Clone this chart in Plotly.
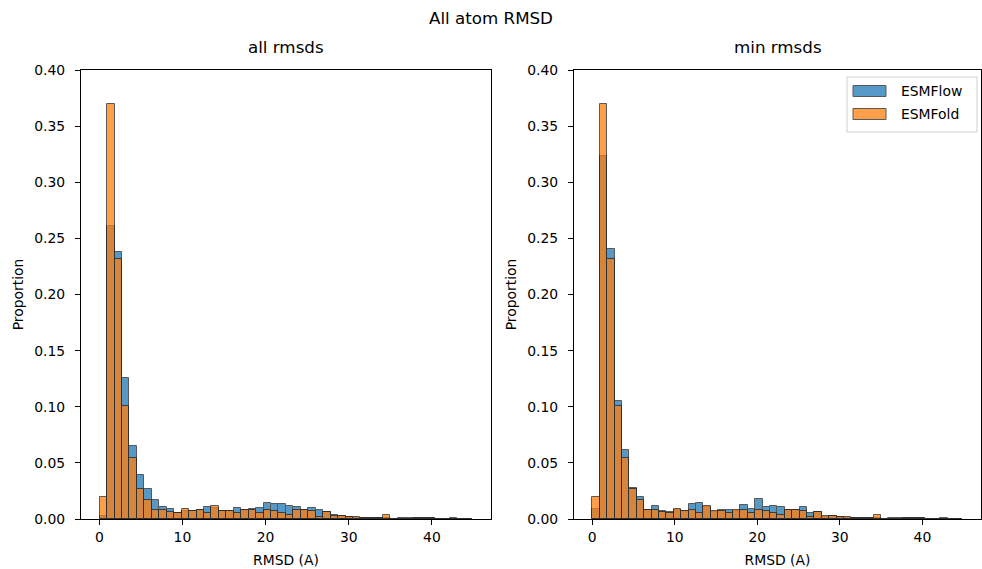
import plotly.graph_objects as go

# ---- data (proportions per histogram bin) ----
bin_start = 0.04
bin_width = 0.896
n_bins = 50

esmflow_all = [0.003, 0.2614, 0.2383, 0.126, 0.0648, 0.039, 0.0265, 0.017, 0.011, 0.009,
               0.0053, 0.007, 0.0068, 0.0077, 0.0103, 0.010, 0.0075, 0.007, 0.0095, 0.008,
               0.0085, 0.0095, 0.0146, 0.013, 0.013, 0.0113, 0.0104, 0.008, 0.0095, 0.0083,
               0.006, 0.004, 0.003, 0.002, 0.001, 0.0008, 0.0008, 0.0006, 0.0005, 0.0,
               0.0004, 0.0006, 0.0005, 0.0005, 0.0005, 0.0004, 0.0, 0.0008, 0.0, 0.0]
esmfold_all = [0.0199, 0.3696, 0.232, 0.1007, 0.054, 0.0266, 0.017, 0.008, 0.0077, 0.0064,
               0.0053, 0.0092, 0.007, 0.008, 0.0056, 0.0112, 0.0072, 0.007, 0.0056, 0.008,
               0.008, 0.005, 0.008, 0.0071, 0.0056, 0.0036, 0.008, 0.008, 0.0071, 0.0015,
               0.006, 0.003, 0.003, 0.002, 0.002, 0.0008, 0.0008, 0.0008, 0.0033, 0.0,
               0.0005, 0.0004, 0.0005, 0.0005, 0.0005, 0.0004, 0.0, 0.0004, 0.0, 0.0]
esmflow_min = [0.0086, 0.3238, 0.2403, 0.1049, 0.0612, 0.0278, 0.0195, 0.008, 0.0113, 0.007,
               0.006, 0.0077, 0.0068, 0.0134, 0.0143, 0.0103, 0.0065, 0.0077, 0.0083, 0.0071,
               0.0122, 0.0092, 0.0175, 0.0104, 0.0113, 0.0104, 0.008, 0.008, 0.0104, 0.005,
               0.006, 0.002, 0.003, 0.002, 0.001, 0.0008, 0.0008, 0.0006, 0.0005, 0.0,
               0.0004, 0.0006, 0.0005, 0.0005, 0.0005, 0.0004, 0.0, 0.0006, 0.0, 0.0]
esmfold_min = list(esmfold_all)

x_ticks = [0, 10, 20, 30, 40]
y_ticks = [0.0, 0.05, 0.10, 0.15, 0.20, 0.25, 0.30, 0.35, 0.40]
series_names = ["ESMFlow", "ESMFold"]
panel_titles = ["all rmsds", "min rmsds"]

# ---- figure ----
W, H = 982, 569
ML, MR, MT, MB = 81, 1, 70, 50
PW, PH = W - ML - MR, H - MT - MB

def px_x(px):
    return (px - ML) / PW

def px_y(py):
    return (H - MB - py) / PH

blue = "#1f77b4"
orange = "#ff7f0e"
edge = "#222222"
FONT = "DejaVu Sans"

centers = [bin_start + (i + 0.5) * bin_width for i in range(n_bins)]

fig = go.Figure()
panels = [(esmflow_all, esmfold_all, "x", "y"), (esmflow_min, esmfold_min, "x2", "y2")]
for flow, fold, xa, ya in panels:
    for vals, col, name in [(flow, blue, series_names[0]), (fold, orange, series_names[1])]:
        fig.add_trace(go.Bar(
            x=centers, y=vals, width=bin_width, name=name,
            marker=dict(color=col, line=dict(color=edge, width=1)),
            opacity=0.75, xaxis=xa, yaxis=ya, showlegend=False,
        ))

axis_common = dict(showline=True, linecolor="black", linewidth=1, mirror=True,
                   ticks="outside", ticklen=5, tickcolor="black", tickwidth=1,
                   showgrid=False, zeroline=False,
                   tickfont=dict(family=FONT, size=13.9, color="black"))

xrange_ = [-2.2, 47.1]
fig.update_layout(
    width=W, height=H,
    margin=dict(l=ML, r=MR, t=MT, b=MB),
    paper_bgcolor="white", plot_bgcolor="white",
    barmode="overlay", bargap=0,
    font=dict(family=FONT, size=13.9, color="black"),
    xaxis=dict(domain=[0, px_x(491)], range=xrange_, tickvals=x_ticks,
               title=dict(text="RMSD (A)", standoff=11, font=dict(size=13.9)), anchor="y", **axis_common),
    yaxis=dict(domain=[0, 1], range=[0, 0.4], tickvals=y_ticks, tickformat=".2f", ticklabelstandoff=7,
               title=dict(text="Proportion", standoff=7, font=dict(size=13.9)), anchor="x", **axis_common),
    xaxis2=dict(domain=[px_x(574), 1], range=xrange_, tickvals=x_ticks,
                title=dict(text="RMSD (A)", standoff=11, font=dict(size=13.9)), anchor="y2", **axis_common),
    yaxis2=dict(domain=[0, 1], range=[0, 0.4], tickvals=y_ticks, tickformat=".2f", ticklabelstandoff=7,
                title=dict(text="Proportion", standoff=7, font=dict(size=13.9)), anchor="x2", **axis_common),
)

annotations = [
    dict(text="All atom RMSD", x=px_x(491), y=px_y(18), font=dict(size=16.7)),
    dict(text=panel_titles[0], x=px_x(286), y=px_y(47), font=dict(size=16.7)),
    dict(text=panel_titles[1], x=px_x(778), y=px_y(47), font=dict(size=16.7)),
]
for a in annotations:
    fig.add_annotation(xref="paper", yref="paper", showarrow=False,
                       xanchor="center", yanchor="middle", **a)

# legend (drawn like matplotlib's)
fig.add_shape(type="rect", xref="paper", yref="paper",
              x0=px_x(847), x1=px_x(977), y0=px_y(77), y1=px_y(132),
              line=dict(color="#d0d0d0", width=1), fillcolor="rgba(255,255,255,0.8)")
for (yc, col, name) in [(91, blue, series_names[0]), (114, orange, series_names[1])]:
    fig.add_shape(type="rect", xref="paper", yref="paper",
                  x0=px_x(853), x1=px_x(886), y0=px_y(yc - 5.5), y1=px_y(yc + 5.5),
                  line=dict(color=edge, width=1), fillcolor=col, opacity=0.75)
    fig.add_annotation(xref="paper", yref="paper", showarrow=False,
                       x=px_x(899), y=px_y(yc), xanchor="left", yanchor="middle",
                       text=name, font=dict(size=13.9))

fig.write_html("out.html", config={"displayModeBar": False},
               post_script="document.body.style.margin='0px';")
